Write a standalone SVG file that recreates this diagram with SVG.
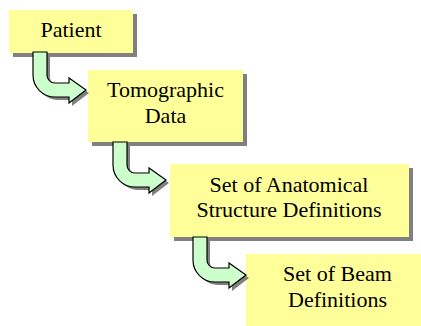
<svg xmlns="http://www.w3.org/2000/svg" width="421" height="326" viewBox="0 0 421 326">
  <defs>
    <style>
      .box { fill: #ffff99; }
      .shadow { fill: #808080; }
      .label { font-family: "Liberation Serif", "Times New Roman", serif; font-size: 22px; fill: #000; text-anchor: middle; }
      .arrow { fill: #ccffcc; stroke: #000; stroke-width: 1.2; stroke-linejoin: miter; }
      .arrow-shadow { fill: #808080; }
    </style>
    <!-- bent block arrow: stem goes down, bends and points right -->
    <path id="bent" d="M0,0 L14,0 L14,23 A8,8 0 0 0 22,31 L36,31 L36,26 L53,38 L36,51 L36,45 L22,45 A22,22 0 0 1 0,23 Z"/>
  </defs>

  <rect width="421" height="326" fill="#ffffff"/>

  <g id="patient">
    <rect class="shadow" x="13" y="14" width="124" height="43"/>
    <rect class="box" x="9" y="10" width="124" height="43"/>
    <text class="label" x="71" y="37">Patient</text>
  </g>

  <g id="tomographic-data">
    <rect class="shadow" x="92" y="74" width="155" height="72"/>
    <rect class="box" x="88" y="70" width="155" height="72"/>
    <text class="label" x="165.5" y="97">Tomographic</text>
    <text class="label" x="165.5" y="123">Data</text>
  </g>

  <g id="anatomical-structures">
    <rect class="shadow" x="174" y="168" width="239" height="73"/>
    <rect class="box" x="170" y="164" width="239" height="73"/>
    <text class="label" x="289" y="192">Set of Anatomical</text>
    <text class="label" x="289" y="217">Structure Definitions</text>
  </g>

  <g id="beam-definitions">
    <rect class="box" x="246" y="254" width="190" height="80"/>
    <text class="label" x="337.5" y="281">Set of Beam</text>
    <text class="label" x="337.5" y="307">Definitions</text>
  </g>

  <g id="connectors">
    <g transform="translate(33,52)">
      <use href="#bent" class="arrow-shadow" x="3" y="3"/>
      <use href="#bent" class="arrow"/>
    </g>
    <g transform="translate(113,142)">
      <use href="#bent" class="arrow-shadow" x="3" y="3"/>
      <use href="#bent" class="arrow"/>
    </g>
    <g transform="translate(193,237)">
      <use href="#bent" class="arrow-shadow" x="3" y="3"/>
      <use href="#bent" class="arrow"/>
    </g>
  </g>
</svg>
